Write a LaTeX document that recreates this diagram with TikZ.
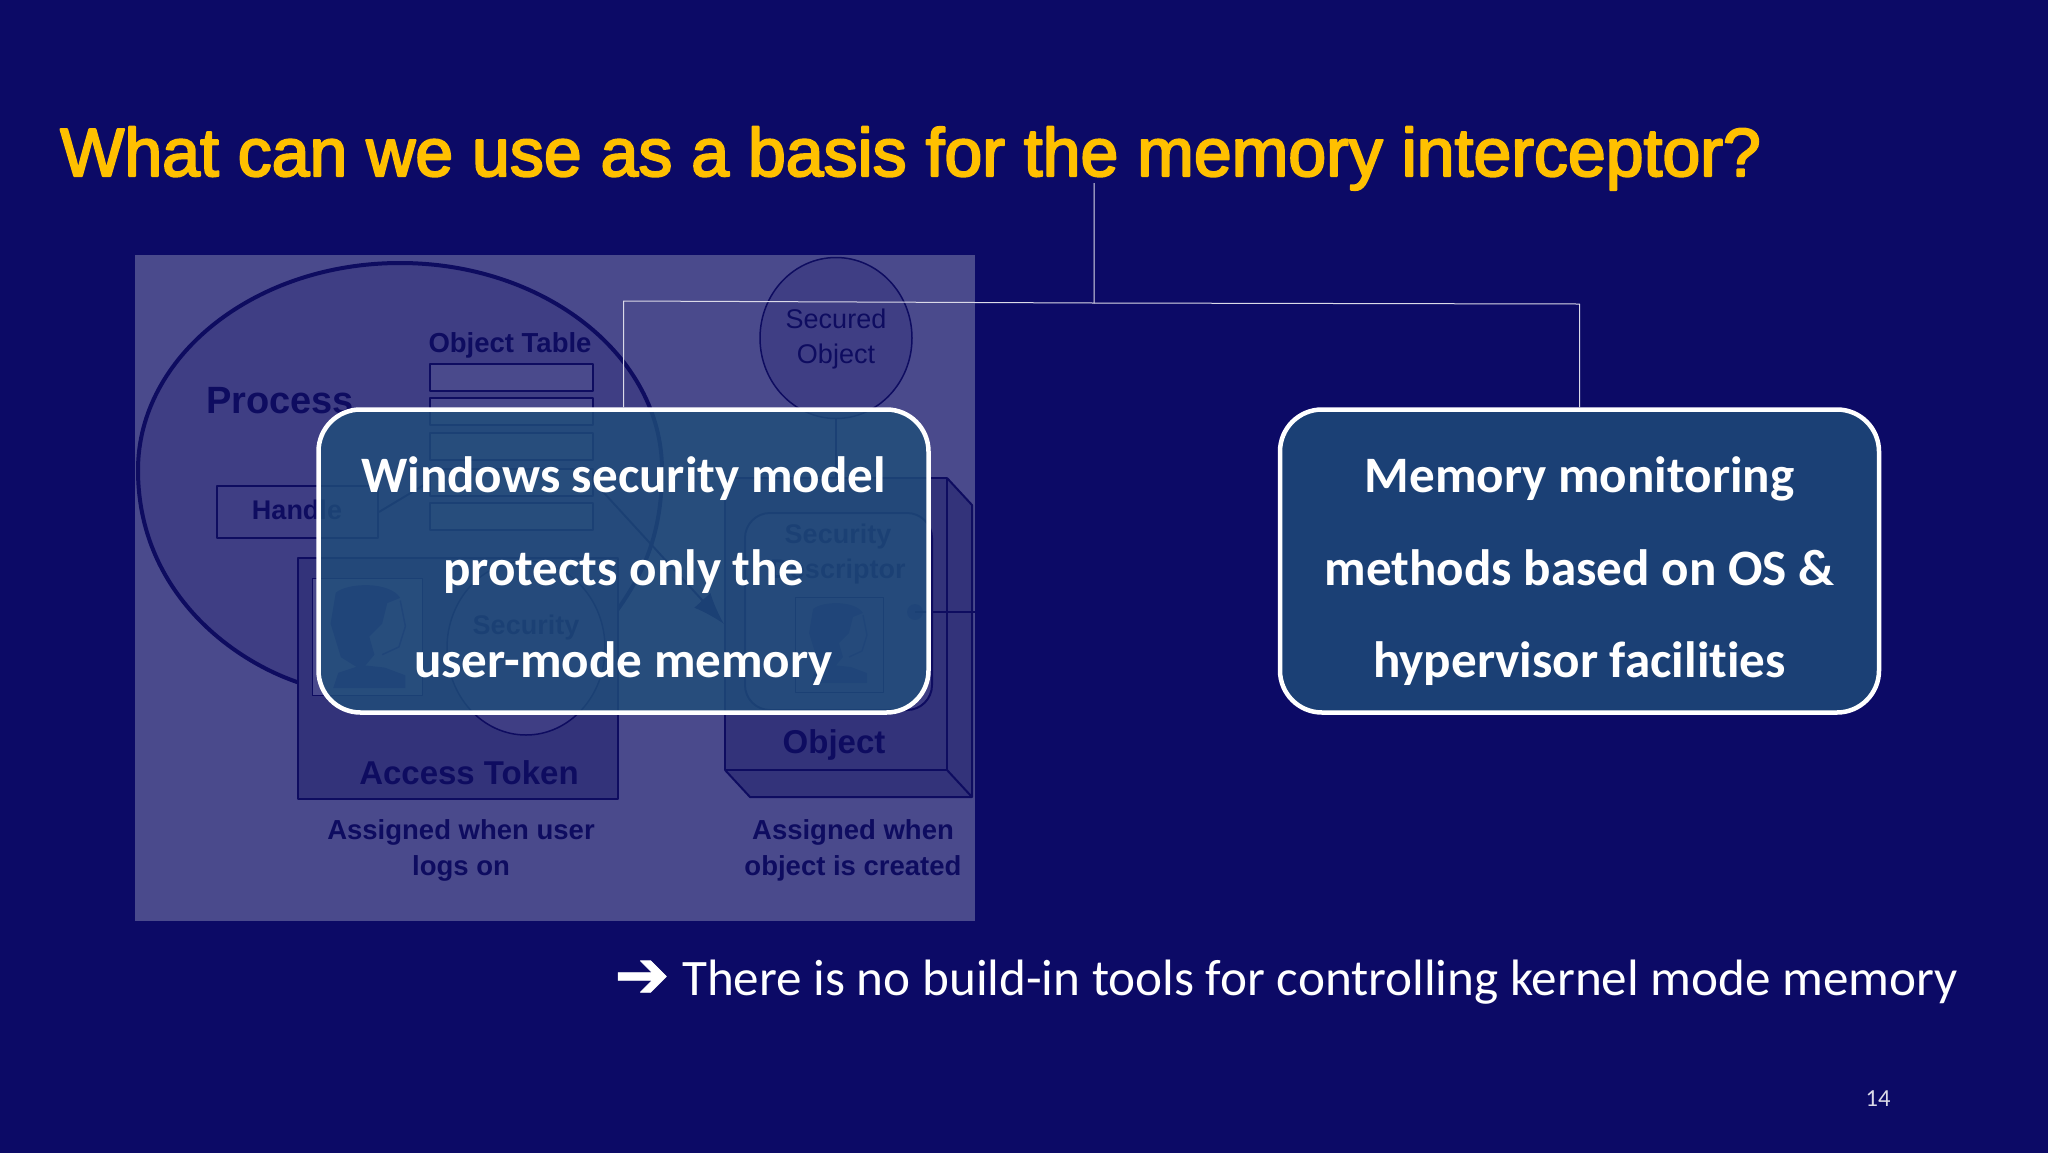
\documentclass[tikz,border=0pt]{standalone}
\usepackage{fontspec}
\setmainfont[Ligatures=NoCommon]{Carlito}
\newfontfamily\titlefont[FakeBold=3]{Liberation Sans}
\newfontfamily\shotfont{Liberation Sans}
\newfontfamily\arrowfont[FakeBold=1]{DejaVu Sans}
\usetikzlibrary{arrows.meta,shapes.geometric}

\definecolor{slidebg}{HTML}{0C0A66}
\definecolor{panelbg}{HTML}{4A4A8C}
\definecolor{innerbg}{HTML}{3F3E84}
\definecolor{tokenbg}{HTML}{33337A}
\definecolor{shotline}{HTML}{0E0C60}
\definecolor{facebg}{HTML}{25257A}
\definecolor{msgfill}{HTML}{1F4E79}
\definecolor{titlegold}{HTML}{FFC000}

\tikzset{
	shotedge/.style={draw=shotline, line width=2pt},
	shotbold/.style={inner sep=0pt, text=shotline, align=center, font=\shotfont\bfseries\fontsize{#1}{36}\selectfont},
	shotthin/.style={inner sep=0pt, text=shotline, align=center, font=\shotfont\fontsize{27}{35}\selectfont},
	rowbox/.style={shotedge, fill=panelbg, minimum width=163pt, minimum height=27pt, inner sep=0pt},
	msgbox/.style={draw=white, line width=4.5pt, fill=msgfill, fill opacity=0.8, draw opacity=1, text opacity=1,
		rounded corners=42pt, minimum height=303pt, inner sep=0pt, text=white, align=center, text height=242pt,
		font=\bfseries\fontsize{51.1}{92.5}\selectfont},
	connector/.style={draw=white!85!slidebg, line width=1pt},
	person/.pic={
		\fill[facebg] (6,6) .. controls (15,-2) and (48,-3) .. (56,10) -- (46,14) -- (42,30) -- (32,40)
			-- (36,54) -- (26,66) -- (10,56) -- (2,30) -- cycle;
		\fill[facebg] (8,68) -- (26,62) -- (44,64) -- (60,70) -- (60,80) -- (4,80) -- cycle;
		\draw[facebg, line width=1.5pt] (56,12) -- (60,32) -- (55,48) -- (42,54);
	}
}

\begin{document}
\begin{tikzpicture}[x=1pt, y=-1pt, >=Latex, line join=round]

	% slide and faded screenshot
	\useasboundingbox (0,0) rectangle (2048,1152);
	\fill[slidebg] (-4,-4) rectangle (2052,1156);
	\fill[panelbg] (135,255) rectangle (975,921);

	% process
	\draw[draw=shotline, fill=innerbg, line width=4pt] (138,470) arc (180:360:262 and 207)
		.. controls (662,540) and (640,580) .. (610,620) -- (480,720) -- (300,683)
		.. controls (230,660) and (138,590) .. (138,470) -- cycle;
	\node[shotbold=38] (process) at (280,401) {Process};
	\node[shotbold=27.5] (tablelabel) at (510,345) {Object Table};
	\foreach \i/\ypos in {1/377.5,2/411.5,3/446.5,4/482,5/516}
		\node[rowbox] (row\i) at (511.5,\ypos) {};
	\node[shotedge, fill=innerbg, minimum width=161pt, minimum height=52pt, inner sep=0pt] (handle) at (297.5,512) {};
	\node[shotbold=27] (handlelabel) at (297,510) {Handle};
	\draw[shotedge] (handle.east) -- (row4.west);

	% access token
	\node[shotedge, fill=tokenbg, minimum width=320pt, minimum height=241pt, inner sep=0pt] (token) at (457.5,678) {};
	\node[shotedge, fill=panelbg, line width=1pt, minimum width=110pt, minimum height=117pt, inner sep=0pt] (userpic) at (367,636.5) {};
	\pic[scale=1.29] at (328,585) {person};
	\node[ellipse, shotedge, fill=innerbg, line width=1.5pt, minimum width=158pt, minimum height=174pt, inner sep=0pt] (secid) at (526,648) {};
	\node[shotbold=27] (secidlabel) at (526,628) {Security};
	\node[shotbold=33] (tokenlabel) at (469,773) {Access Token};
	\node[shotbold=27.5] (tokennote) at (461,850.5) {Assigned when user\\logs on};

	% secured object
	\node[ellipse, shotedge, fill=innerbg, line width=1.5pt, minimum width=152pt, minimum height=161pt, inner sep=0pt] (secured) at (836,338) {};
	\node[shotthin] (securedlabel) at (836,339) {Secured\\Object};
	\fill[tokenbg] (947,478) -- (972,505) -- (972,797) -- (750,797) -- (725,770) -- cycle;
	\draw[shotedge] (947,478) -- (972,505) -- (972,797) -- (750,797) -- (725,770);
	\draw[shotedge] (947,770) -- (972,797);
	\node[shotedge, fill=tokenbg, minimum width=222pt, minimum height=292pt, inner sep=0pt] (objfront) at (836,624) {};
	\draw[shotedge] (secured.south) -- (objfront.north);
	\node[shotedge, fill=innerbg, rounded corners=25pt, minimum width=187pt, minimum height=197pt, inner sep=0pt] (descriptor) at (838.5,611.5) {};
	\node[shotthin, font=\shotfont\bfseries\fontsize{27}{35}\selectfont] (desclabel) at (838,554) {Security\\Descriptor};
	\node[shotedge, fill=innerbg, line width=1pt, minimum width=88pt, minimum height=95pt, inner sep=0pt] (ownerpic) at (839,644.5) {};
	\pic at (807,603) {person};
	\fill[facebg] (915,612) circle (8);
	\coordinate (objedge) at (975,612);
	\draw[shotedge] (915,612) -- (objedge);
	\node[shotbold=33] (objlabel) at (834,745) {Object};
	\node[shotbold=27.5] (objnote) at (853,850.5) {Assigned when\\object is created};
	\draw[shotedge, ->, >={Latex[length=32pt,width=22pt]}] (row4.east) -- (objfront.west);

	% connectors from the title
	\node[msgbox, minimum width=610pt] (winbox) at (623.5,561) {Windows security model\\protects only the\\user-mode memory};
	\node[msgbox, minimum width=599pt] (monbox) at (1579.5,561) {Memory monitoring\\methods based on OS \&\\hypervisor facilities};
	\coordinate (titlefoot) at (1094,183);
	\coordinate (bus) at (1094,303);
	\coordinate (busleft) at (623.5,301);
	\coordinate (busright) at (1579.5,304);
	\draw[connector] (titlefoot) -- (bus) -- (busleft) -- (winbox.north);
	\draw[connector] (bus) -- (busright) -- (monbox.north);

	% texts
	\node[anchor=base west, inner sep=0pt, text=titlegold, font=\titlefont\fontsize{68}{68}\selectfont] (title) at (60,176) {What can we use as a basis for the memory interceptor?};
	\node[inner sep=0pt, text=white, font=\arrowfont\fontsize{66}{66}\selectfont] (arrowmark) at (642,979) {➔};
	\node[anchor=base west, inner sep=0pt, text=white, font=\fontsize{51.15}{51.15}\selectfont] (summary) at (682,995) {There is no build-in tools for controlling kernel mode memory};
	\node[inner sep=0pt, text=white!85!slidebg, font=\fontsize{24.5}{24.5}\selectfont] (pagenum) at (1878,1099) {14};

\end{tikzpicture}
\end{document}
